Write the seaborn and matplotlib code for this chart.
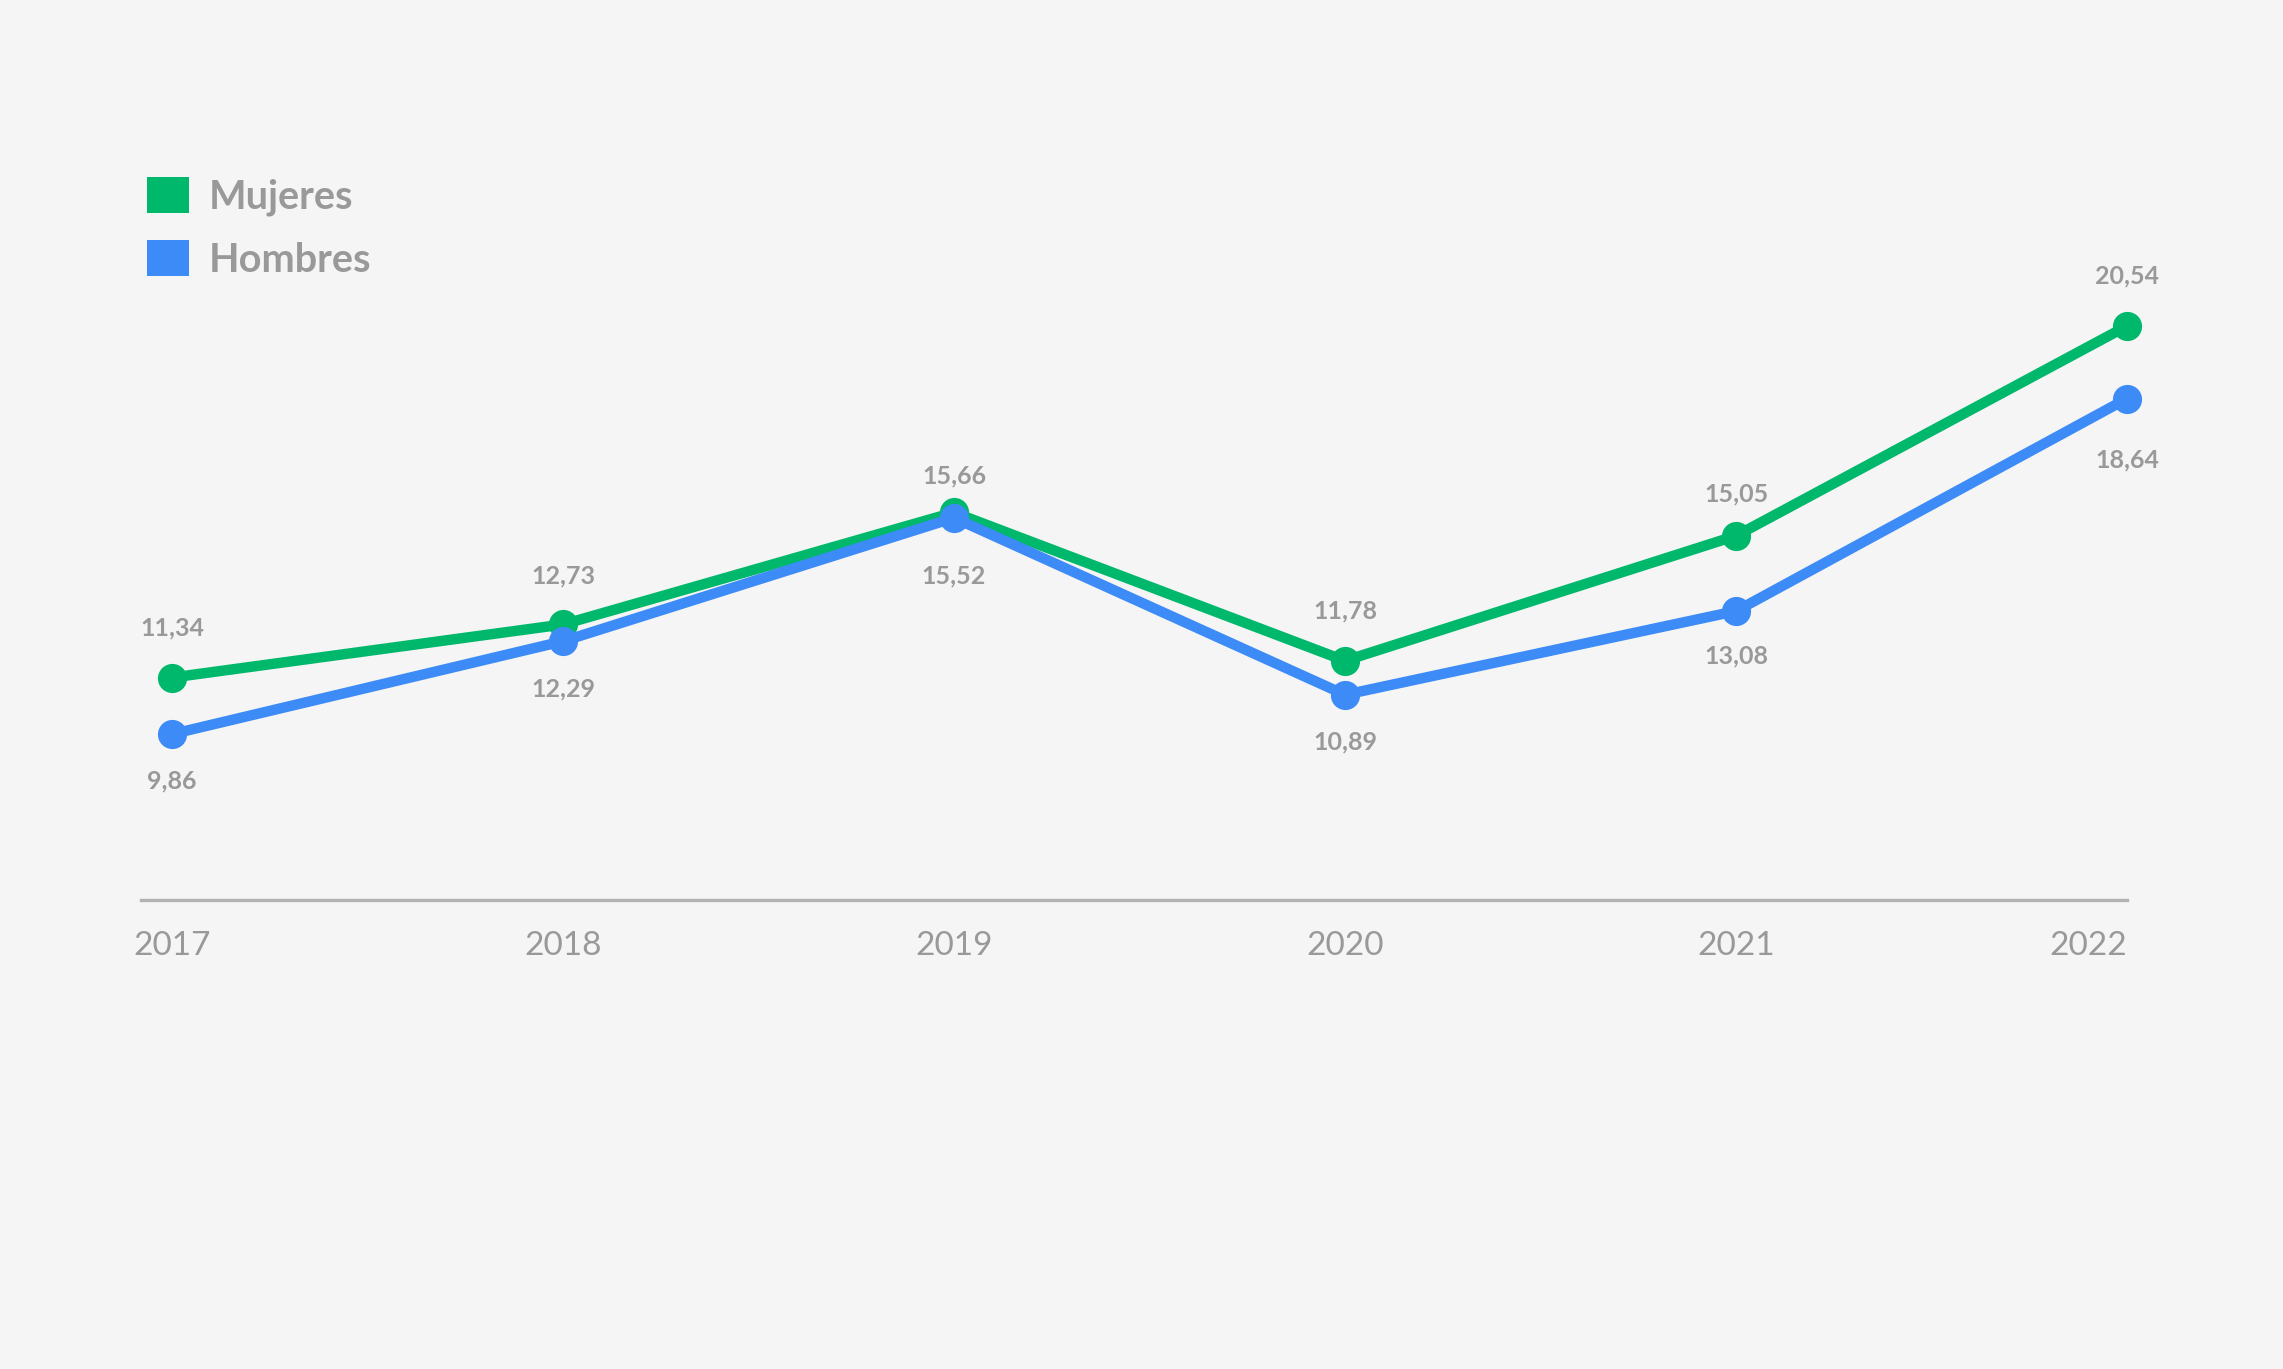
import matplotlib
matplotlib.use("Agg")
import matplotlib.pyplot as plt
from matplotlib.patches import Patch
import seaborn as sns
import pandas as pd

years = [2017, 2018, 2019, 2020, 2021, 2022]
mujeres = [11.34, 12.73, 15.66, 11.78, 15.05, 20.54]
hombres = [9.86, 12.29, 15.52, 10.89, 13.08, 18.64]
series_names = ["Mujeres", "Hombres"]
colors = {"Mujeres": "#00b86b", "Hombres": "#3d8bf7"}

# label offsets (points): above for Mujeres, below for Hombres
off_muj = [36, 35, 26, 36, 30, 36]
off_hom = [34, 34, 42, 34, 32, 44]

df = pd.DataFrame({
    "year": years * 2,
    "value": mujeres + hombres,
    "serie": [series_names[0]] * len(years) + [series_names[1]] * len(years),
})

sns.set_theme(style="white")
plt.rcParams["font.family"] = ["Lato", "DejaVu Sans"]
bg = "#f5f5f5"
gray = "#999999"

fig = plt.figure(figsize=(22.83, 13.69), dpi=100, facecolor=bg)
ax = fig.add_axes([0.0618, 0.3426, 0.8699, 0.6574])
ax.set_facecolor(bg)

sns.lineplot(data=df, x="year", y="value", hue="serie", palette=colors,
             marker="o", markersize=21, markeredgewidth=0, linewidth=7.5,
             ax=ax, legend=False)
for ln in ax.lines:
    ln.set_clip_on(False)

ax.set_xlim(2016.921, 2022.0)
ax.set_ylim(5.52, 29.07)

def fmt(v):
    return f"{v:.2f}".replace(".", ",")

for x, v, o in zip(years, mujeres, off_muj):
    ax.annotate(fmt(v), (x, v), xytext=(0, o), textcoords="offset points",
                ha="center", va="center", fontsize=18, fontweight="bold", color=gray)
for x, v, o in zip(years, hombres, off_hom):
    ax.annotate(fmt(v), (x, v), xytext=(0, -o), textcoords="offset points",
                ha="center", va="center", fontsize=18, fontweight="bold", color=gray)

for s in ["top", "right", "left"]:
    ax.spines[s].set_visible(False)
ax.spines["bottom"].set_color("#b3b3b3")
ax.spines["bottom"].set_linewidth(2.4)
ax.set_xticks(years)
ax.set_xticklabels([str(y) for y in years])
ax.tick_params(axis="x", length=0, pad=22, labelsize=24, labelcolor=gray)
ax.get_xticklabels()[-1].set_horizontalalignment("right")
ax.get_xticklabels()[-1].set_x(2022.01)
ax.set_yticks([])
ax.set_xlabel("")
ax.set_ylabel("")
ax.grid(False)

handles = [Patch(facecolor=colors[n], edgecolor="none") for n in series_names]
leg = fig.legend(handles, series_names, loc="upper left",
                 bbox_to_anchor=(0.049, 0.897), frameon=False,
                 fontsize=28.5, handlelength=1.05, handleheight=1.05,
                 handletextpad=0.5, labelspacing=0.6)
for t in leg.get_texts():
    t.set_color(gray)
    t.set_fontweight("bold")

fig.savefig("out.png", dpi=100, facecolor=bg)
